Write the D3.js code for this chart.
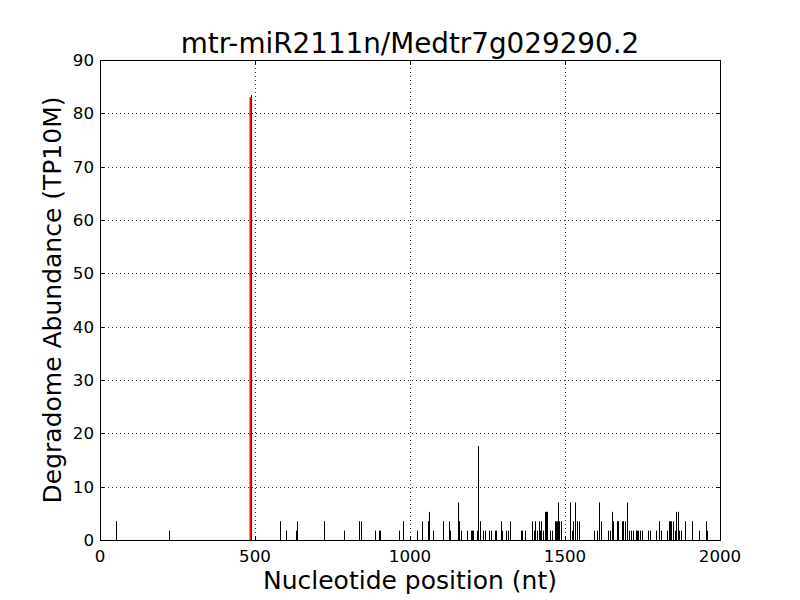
<!DOCTYPE html>
<html>
<head>
<meta charset="utf-8">
<script src="https://cdn.jsdelivr.net/npm/d3@7"></script>
<style>
  body { margin: 0; background: #fff; }
  text { font-family: "DejaVu Sans", sans-serif; fill: #000; }
</style>
</head>
<body>
<svg id="chart" width="800" height="600"></svg>
<script>
const titleText = "mtr-miR2111n/Medtr7g029290.2";
const xLabel = "Nucleotide position (nt)";
const yLabel = "Degradome Abundance (TP10M)";
const xTicks = [0, 500, 1000, 1500, 2000];
const yTicks = [0, 10, 20, 30, 40, 50, 60, 70, 80, 90];

const positions = [50, 223, 488, 582, 601, 633, 636, 723, 787, 835, 842, 888, 900, 903, 965, 978,
  1023, 1040, 1059, 1062, 1075, 1107, 1127, 1130, 1156, 1159, 1163, 1185, 1198, 1201, 1204, 1216,
  1220, 1227, 1237, 1243, 1256, 1261, 1275, 1278, 1295, 1298, 1311, 1316, 1323, 1359, 1362, 1372,
  1395, 1401, 1404, 1411, 1417, 1420, 1423, 1428, 1436, 1440, 1443, 1453, 1459, 1467, 1470, 1473,
  1476, 1478, 1482, 1486, 1516, 1523, 1527, 1533, 1540, 1545, 1594, 1604, 1611, 1617, 1640, 1646,
  1653, 1656, 1669, 1672, 1683, 1688, 1694, 1701, 1707, 1714, 1720, 1730, 1733, 1737, 1741, 1748,
  1769, 1773, 1792, 1804, 1811, 1830, 1834, 1838, 1843, 1847, 1856, 1859, 1866, 1869, 1875, 1888,
  1911, 1933, 1956, 1959];
const abundance = [3.52, 1.76, 83.4, 3.52, 1.76, 1.76, 3.52, 3.52, 1.76, 3.52, 3.52, 1.76, 1.76, 1.76, 1.76, 3.52,
  1.76, 3.52, 3.52, 5.28, 1.76, 3.52, 3.52, 1.76, 7.04, 3.52, 1.76, 1.76, 1.76, 1.76, 1.76, 1.76,
  17.6, 3.52, 1.76, 1.76, 1.76, 1.76, 1.76, 1.76, 3.52, 1.76, 1.76, 1.76, 3.52, 1.76, 1.76, 1.76,
  3.52, 1.76, 3.52, 1.76, 3.52, 1.76, 3.52, 1.76, 5.28, 5.28, 5.28, 1.76, 1.76, 3.52, 3.52, 3.52,
  3.52, 7.04, 3.52, 3.52, 7.04, 1.76, 3.52, 7.04, 3.52, 3.52, 1.76, 1.76, 7.04, 3.52, 1.76, 1.76,
  5.28, 3.52, 3.52, 3.52, 3.52, 3.52, 3.52, 7.04, 1.76, 1.76, 1.76, 1.76, 1.76, 1.76, 1.76, 1.76,
  1.76, 1.76, 1.76, 3.52, 1.76, 1.76, 3.52, 3.52, 3.52, 3.52, 1.76, 5.28, 5.28, 1.76, 1.76, 3.52,
  3.52, 1.76, 3.52, 1.76];
const cleavagePos = [488];
const cleavageVal = [83.0];

const svg = d3.select("#chart");
const m = {left: 100, right: 720, top: 60, bottom: 540};
const x = d3.scaleLinear().domain([0, 2000]).range([m.left, m.right]);
const y = d3.scaleLinear().domain([0, 90]).range([m.bottom, m.top]);
const px = v => Math.round(x(v)) + 0.5;

// grid
const grid = svg.append("g");
xTicks.slice(1, -1).forEach(t => {
  grid.append("line").attr("x1", px(t)).attr("x2", px(t)).attr("y1", m.top).attr("y2", m.bottom)
    .attr("stroke", "#000").attr("stroke-width", 0.8).attr("stroke-dasharray", "1,3");
});
yTicks.slice(1, -1).forEach(t => {
  const yy = Math.round(y(t)) + 0.5;
  grid.append("line").attr("x1", m.left).attr("x2", m.right).attr("y1", yy).attr("y2", yy)
    .attr("stroke", "#000").attr("stroke-width", 0.8).attr("stroke-dasharray", "1,3");
});

// black vlines
svg.append("g").selectAll("line").data(positions.map((p, i) => ({p, v: abundance[i]})))
  .join("line")
  .attr("x1", d => px(d.p)).attr("x2", d => px(d.p))
  .attr("y1", y(0)).attr("y2", d => y(d.v))
  .attr("stroke", "#000").attr("stroke-width", 1);

// red cleavage line
svg.append("g").selectAll("line").data(cleavagePos.map((p, i) => ({p, v: cleavageVal[i]})))
  .join("line")
  .attr("x1", d => Math.round(x(d.p)) - 0.5).attr("x2", d => Math.round(x(d.p)) - 0.5)
  .attr("y1", y(0)).attr("y2", d => y(d.v))
  .attr("stroke", "#ff0000").attr("stroke-width", 2);

// ticks (inward, all sides)
const tk = svg.append("g").attr("stroke", "#000").attr("stroke-width", 1);
xTicks.forEach(t => {
  tk.append("line").attr("x1", px(t)).attr("x2", px(t)).attr("y1", m.bottom).attr("y2", m.bottom - 4);
  tk.append("line").attr("x1", px(t)).attr("x2", px(t)).attr("y1", m.top).attr("y2", m.top + 4);
});
yTicks.forEach(t => {
  const yy = Math.round(y(t)) + 0.5;
  tk.append("line").attr("x1", m.left).attr("x2", m.left + 4).attr("y1", yy).attr("y2", yy);
  tk.append("line").attr("x1", m.right).attr("x2", m.right - 4).attr("y1", yy).attr("y2", yy);
});

// frame
svg.append("rect").attr("x", m.left + 0.5).attr("y", m.top + 0.5)
  .attr("width", m.right - m.left).attr("height", m.bottom - m.top)
  .attr("fill", "none").attr("stroke", "#000").attr("stroke-width", 1);

// tick labels
svg.append("g").selectAll("text").data(xTicks).join("text")
  .attr("x", d => x(d)).attr("y", 562).attr("text-anchor", "middle")
  .style("font-size", "16.7px").text(d => d);
svg.append("g").selectAll("text").data(yTicks).join("text")
  .attr("x", 94).attr("y", d => y(d)).attr("dy", "0.35em").attr("text-anchor", "end")
  .style("font-size", "16.7px").text(d => d);

// titles
svg.append("text").attr("x", 410).attr("y", 53).attr("text-anchor", "middle")
  .style("font-size", "27.8px").text(titleText);
svg.append("text").attr("x", 410).attr("y", 589).attr("text-anchor", "middle")
  .style("font-size", "25px").text(xLabel);
svg.append("text").attr("transform", "translate(61,300) rotate(-90)").attr("text-anchor", "middle")
  .style("font-size", "25px").text(yLabel);
</script>
</body>
</html>
